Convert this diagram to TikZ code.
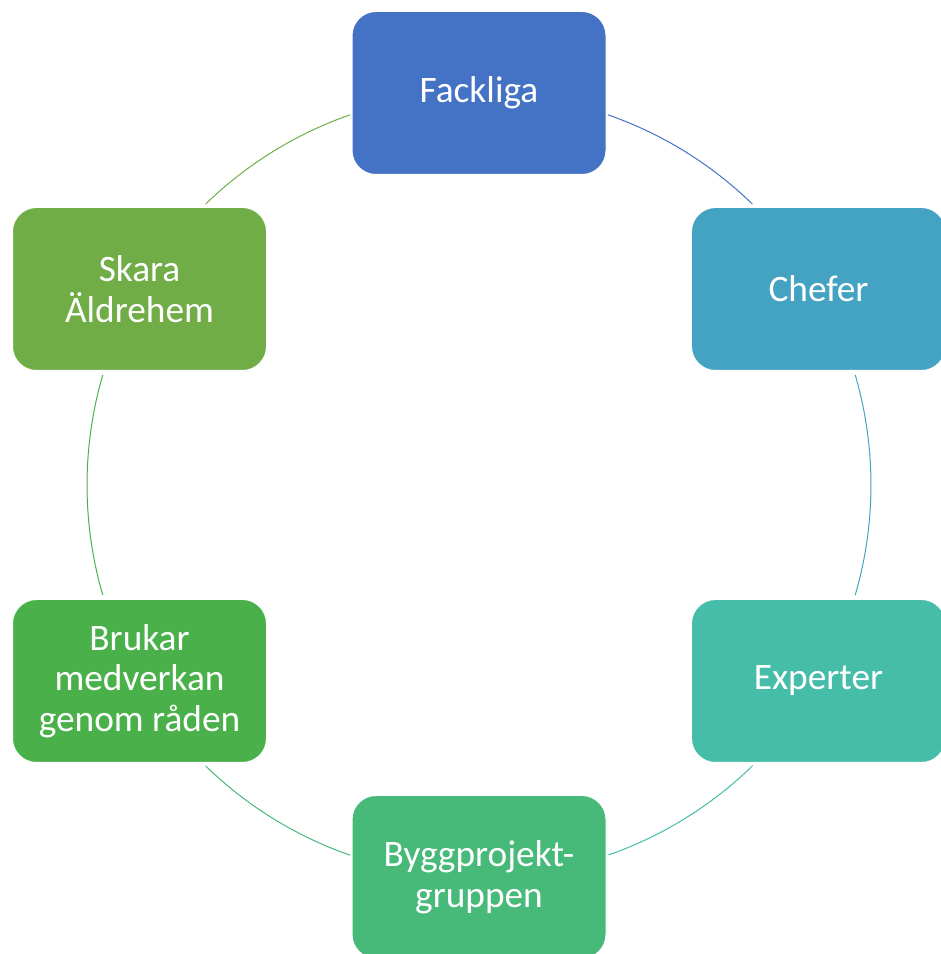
\documentclass[tikz,border=0pt]{standalone}
\usepackage{fontspec}
\setmainfont{Carlito}
\usetikzlibrary{calc}

\definecolor{fackcol}{HTML}{4472C4}
\definecolor{chefcol}{HTML}{44A3C2}
\definecolor{expcol}{HTML}{46BDA9}
\definecolor{byggcol}{HTML}{47B979}
\definecolor{brukcol}{HTML}{4AB14A}
\definecolor{skaracol}{HTML}{70AD47}

\begin{document}
\begin{tikzpicture}[x=0.75pt, y=0.75pt]
    \tikzstyle{box} = [draw=white, line width=0.75pt, rounded corners=18pt,
        minimum width=190.5pt, minimum height=122.25pt, text=white,
        align=center, font=\fontsize{28}{30.5}\selectfont]
    \tikzstyle{ring} = [line width=0.75pt]

    \useasboundingbox (0,0) rectangle (941,954);
    \coordinate (c) at (479,469);

    % Ring segments
    \foreach \a/\d/\col in {70.8/-25/fackcol, 16.3/-32.6/chefcol,
        -45.7/-25/expcol, -109.2/-25/byggcol,
        -163.7/-32.6/brukcol, 134.2/-25/skaracol}
        \draw[ring, \col] ($(c)+(\a:392)$) arc[start angle=\a, delta angle=\d, radius=392];

    % Boxes
    \node[box, fill=fackcol] (fackliga) at ($(c)+(90:392)$) {Fackliga};
    \node[box, fill=chefcol] (chefer) at ($(c)+(30:392)$) {Chefer};
    \node[box, fill=expcol] (experter) at ($(c)+(-30:392)$) {Experter};
    \node[box, fill=byggcol] (bygg) at ($(c)+(-90:392)$) {Byggprojekt-\\gruppen};
    \node[box, fill=brukcol] (brukar) at ($(c)+(-150:392)$) {Brukar\\medverkan\\genom råden};
    \node[box, fill=skaracol] (skara) at ($(c)+(150:392)$) {Skara\\Äldrehem};
\end{tikzpicture}
\end{document}
